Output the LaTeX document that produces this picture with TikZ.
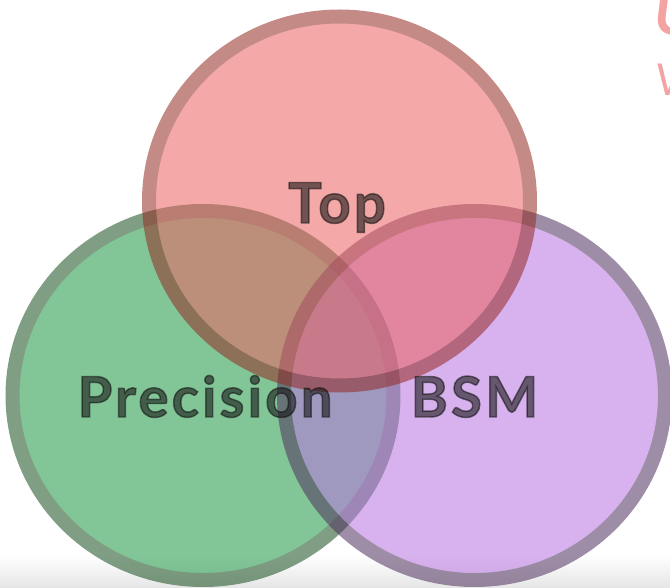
\documentclass[tikz,border=0pt]{standalone}
\usepackage{fontspec}
\setmainfont{Lato}
\newfontfamily\labelfont{Lato}[BoldFeatures={FakeBold=2.6},LetterSpace=6]
\usetikzlibrary{positioning}
\definecolor{topred}{HTML}{EB6261}
\definecolor{topedge}{HTML}{942A23}
\definecolor{precgreen}{HTML}{1C9742}
\definecolor{precedge}{HTML}{164F1F}
\definecolor{bsmviolet}{HTML}{B873E0}
\definecolor{bsmedge}{HTML}{4F305D}
\definecolor{labelgray}{HTML}{141414}
\definecolor{markred}{HTML}{F07C7C}
\tikzset{blob/.style={line width=14pt,x radius=190.5pt,y radius=184.5pt},
  field/.style={font=\labelfont\bfseries\fontsize{56}{60}\selectfont,text=labelgray,text opacity=0.58,anchor=base,inner sep=0pt}}
\begin{document}
\begin{tikzpicture}[x=1pt,y=-1pt]
\useasboundingbox (0,0) rectangle (670,588);
\shade[top color=white,bottom color=black!10] (0,555) rectangle (670,588);
\node[font=\bfseries\itshape\fontsize{60}{60}\selectfont,text=markred,text opacity=0.7,anchor=west] (mark) at (651,13) {U};
\node[font=\itshape\fontsize{44}{44}\selectfont,text=markred,text opacity=0.7,anchor=west] (mark2) at (652,80) {V};
% the three fields
\begin{scope}[transparency group,opacity=0.55]
\draw[blob,draw=precedge,fill=precgreen] (203,395.5) ellipse [];
\end{scope}
\begin{scope}[transparency group,opacity=0.55]
\draw[blob,draw=bsmedge,fill=bsmviolet] (474.5,395.5) ellipse [];
\end{scope}
\begin{scope}[transparency group,opacity=0.55]
\draw[blob,draw=topedge,fill=topred] (339.5,201) ellipse [];
\end{scope}
\node[field] (top) at (337,223) {Top};
\node[field] (prec) at (205,417) {Precision};
\node[field] (bsm) at (474.5,417) {BSM};
\end{tikzpicture}
\end{document}
